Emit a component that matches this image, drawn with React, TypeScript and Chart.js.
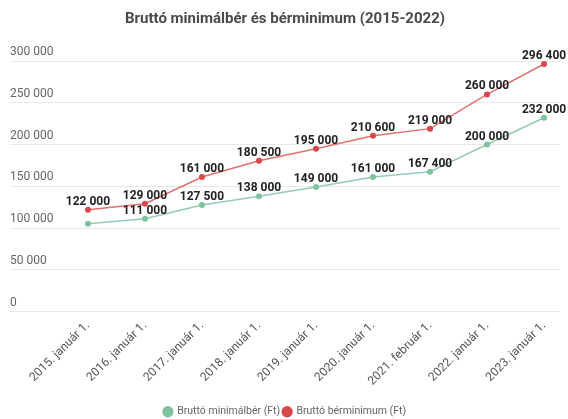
import React, { useEffect, useRef } from "react";
import { Chart, registerables } from "chart.js";

Chart.register(...registerables);

const categories = [
  "2015. január 1.",
  "2016. január 1.",
  "2017. január 1.",
  "2018. január 1.",
  "2019. január 1.",
  "2020. január 1.",
  "2021. február 1.",
  "2022. január 1.",
  "2023. január 1.",
];
const minimalber = [105000, 111000, 127500, 138000, 149000, 161000, 167400, 200000, 232000];
const berminimum = [122000, 129000, 161000, 180500, 195000, 210600, 219000, 260000, 296400];
const minimalberLabelShown = [false, true, true, true, true, true, true, true, true];
const berminimumLabelShown = [true, true, true, true, true, true, true, true, true];
const yTicks = [0, 50000, 100000, 150000, 200000, 250000, 300000];

const fmt = (v: number) => String(v).replace(/\B(?=(\d{3})+(?!\d))/g, " ");

const dataLabelPlugin = {
  id: "dataLabels",
  afterDatasetsDraw(chart: any) {
    const ctx = chart.ctx;
    ctx.save();
    ctx.font = "bold 12px Roboto";
    ctx.fillStyle = "#222";
    ctx.textAlign = "center";
    ctx.textBaseline = "middle";
    chart.data.datasets.forEach((ds: any, di: number) => {
      const meta = chart.getDatasetMeta(di);
      meta.data.forEach((pt: any, i: number) => {
        if (ds.labelShown && !ds.labelShown[i]) return;
        ctx.fillText(fmt(ds.data[i].y), pt.x, pt.y - 8);
      });
    });
    ctx.restore();
  },
};

export default function App() {
  const ref = useRef<HTMLCanvasElement>(null);
  useEffect(() => {
    document.body.style.margin = "0";
    const chart = new Chart(ref.current!, {
      type: "line",
      data: {
        datasets: [
          {
            label: "Bruttó minimálbér (Ft)",
            data: minimalber.map((v, i) => ({ x: i, y: v })),
            borderColor: "#94cdae",
            backgroundColor: "#7fc29e",
            pointBackgroundColor: "#7fc29e",
            pointBorderWidth: 0,
            borderWidth: 1.5,
            pointRadius: 3,
            labelShown: minimalberLabelShown,
          } as any,
          {
            label: "Bruttó bérminimum (Ft)",
            data: berminimum.map((v, i) => ({ x: i, y: v })),
            borderColor: "#e2716f",
            backgroundColor: "#d9474d",
            pointBackgroundColor: "#d9474d",
            pointBorderWidth: 0,
            borderWidth: 1.5,
            pointRadius: 3,
            labelShown: berminimumLabelShown,
          } as any,
        ],
      },
      options: {
        animation: false,
        responsive: false,
        layout: { padding: { left: 10, right: 8, top: 0, bottom: -8 } },
        plugins: {
          title: {
            display: true,
            text: "Bruttó minimálbér és bérminimum (2015-2022)",
            font: { family: "Roboto", size: 15, weight: "bold" },
            color: "#4a4a4a",
            padding: { top: 10, bottom: 33 },
          },
          legend: {
            position: "bottom",
            labels: {
              usePointStyle: true,
              pointStyle: "circle",
              boxWidth: 8,
              boxHeight: 8,
              font: { family: "Roboto", size: 10.5 },
              color: "#666",
              padding: 3,
            },
          },
          tooltip: { enabled: false },
        },
        scales: {
          x: {
            type: "linear",
            min: -1.368,
            max: 8.28,
            afterBuildTicks: (axis: any) => {
              axis.ticks = categories.map((_, i) => ({ value: i }));
            },
            afterFit: (axis: any) => {
              axis.height = 92;
            },
            ticks: {
              callback: (v: any) => categories[v as number] ?? "",
              maxRotation: 45,
              minRotation: 45,
              autoSkip: false,
              font: { family: "Roboto", size: 12 },
              color: "#555",
              padding: 7,
            },
            grid: { display: false, drawTicks: false },
            border: { display: false },
          },
          y: {
            min: 0,
            max: 300000,
            afterBuildTicks: (axis: any) => {
              axis.ticks = yTicks.map((v) => ({ value: v }));
            },
            ticks: {
              mirror: true,
              padding: 0,
              labelOffset: -9,
              callback: (v: any) => fmt(v as number),
              font: { family: "Roboto", size: 12 },
              color: "#666",
            },
            grid: { color: "#e8e8e8", drawTicks: false },
            border: { display: false },
          },
        },
      },
      plugins: [dataLabelPlugin],
    });
    return () => chart.destroy();
  }, []);
  return (
    <div style={{ position: "absolute", left: 0, top: 0, width: 568, height: 419 }}>
      <canvas ref={ref} width={568} height={419} />
    </div>
  );
}
